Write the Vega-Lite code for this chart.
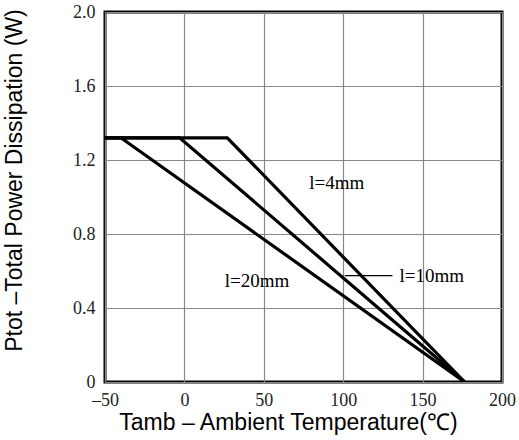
{
  "$schema": "https://vega.github.io/schema/vega-lite/v6.json",
  "autosize": "none",
  "width": 397,
  "height": 370,
  "padding": {"left": 105, "top": 12, "right": 17, "bottom": 58},
  "background": "white",
  "config": {
    "view": {"stroke": "black", "strokeWidth": 3},
    "axis": {
      "grid": true, "gridColor": "#888888", "gridWidth": 1.2, "gridOpacity": 1,
      "domain": false, "ticks": false,
      "labelFont": "Liberation Serif", "labelFontSize": 18, "labelColor": "#222222",
      "titleFont": "Liberation Sans", "titleFontSize": 23, "titleFontWeight": "normal", "titleColor": "black"
    }
  },
  "layer": [
    {
      "data": {"values": [
        {"series": "4mm", "t": -50, "p": 1.32},
        {"series": "4mm", "t": 27, "p": 1.32},
        {"series": "4mm", "t": 176.5, "p": 0},
        {"series": "10mm", "t": -50, "p": 1.32},
        {"series": "10mm", "t": -3, "p": 1.32},
        {"series": "10mm", "t": 176.5, "p": 0},
        {"series": "20mm", "t": -50, "p": 1.32},
        {"series": "20mm", "t": -40, "p": 1.32},
        {"series": "20mm", "t": 176.5, "p": 0}
      ]},
      "mark": {"type": "line", "color": "black", "strokeWidth": 3.2, "strokeJoin": "miter", "clip": true},
      "encoding": {
        "x": {"field": "t", "type": "quantitative",
              "scale": {"domain": [-50, 200], "nice": false, "zero": false},
              "axis": {"values": [-50, 0, 50, 100, 150, 200], "labelPadding": 9, "labelAngle": 0, "labelFlush": false,
                       "labelFont": "Liberation Serif", "labelFontSize": 18,
                       "labelExpr": "datum.value < 0 ? '\u2013' + format(-datum.value, 'd') : format(datum.value, 'd')",
                       "title": "Tamb – Ambient Temperature(℃)", "titlePadding": 2, "titleX": 183}},
        "y": {"field": "p", "type": "quantitative",
              "scale": {"domain": [0, 2], "nice": false},
              "axis": {"values": [0, 0.4, 0.8, 1.2, 1.6, 2.0],
                       "labelFont": "Liberation Serif", "labelFontSize": 18,
                       "labelExpr": "datum.value == 0 ? '0' : format(datum.value, '.1f')",
                       "labelPadding": 10, "title": "Ptot –Total Power Dissipation (W)", "titlePadding": 46, "titleY": 168}},
        "detail": {"field": "series"}
      }
    },
    {
      "data": {"values": [
        {"t1": 101, "t2": 131, "p": 0.575}
      ]},
      "mark": {"type": "rule", "color": "black", "strokeWidth": 1.3},
      "encoding": {
        "x": {"field": "t1", "type": "quantitative"},
        "x2": {"field": "t2"},
        "y": {"field": "p", "type": "quantitative"}
      }
    },
    {
      "data": {"values": [
        {"label": "l=4mm", "t": 96, "p": 1.076},
        {"label": "l=20mm", "t": 45.7, "p": 0.546}
      ]},
      "mark": {"type": "text", "font": "Liberation Serif", "fontSize": 19, "color": "black"},
      "encoding": {
        "x": {"field": "t", "type": "quantitative"},
        "y": {"field": "p", "type": "quantitative"},
        "text": {"field": "label"}
      }
    },
    {
      "data": {"values": [
        {"label": "l=10mm", "t": 135.5, "p": 0.573}
      ]},
      "mark": {"type": "text", "font": "Liberation Serif", "fontSize": 19, "color": "black", "align": "left"},
      "encoding": {
        "x": {"field": "t", "type": "quantitative"},
        "y": {"field": "p", "type": "quantitative"},
        "text": {"field": "label"}
      }
    }
  ]
}
